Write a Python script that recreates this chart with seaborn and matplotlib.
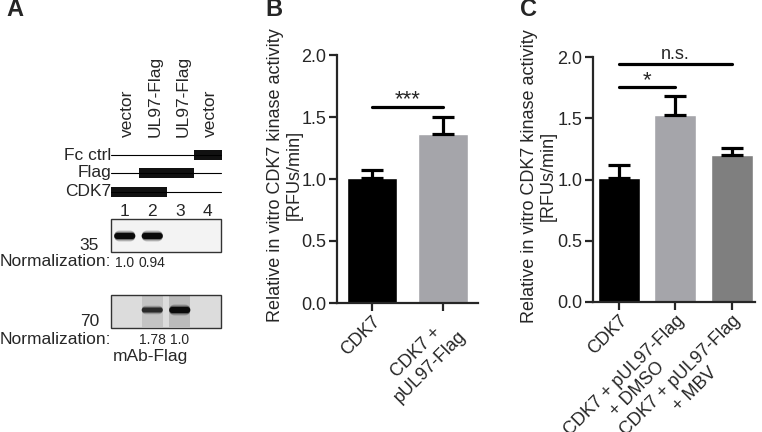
import numpy as np
import pandas as pd
import seaborn as sns
import matplotlib.pyplot as plt
from matplotlib.patches import Rectangle, FancyBboxPatch

# ---- data ----
# panel B
cond_b = ["CDK7", "CDK7 +\npUL97-Flag"]
mean_b = [1.01, 1.36]
err_b = [0.06, 0.14]
col_b = ["#000000", "#a5a5aa"]

# panel C
cond_c = ["CDK7", "CDK7 + pUL97-Flag\n+ DMSO", "CDK7 + pUL97-Flag\n+ MBV"]
mean_c = [1.01, 1.53, 1.20]
err_c = [0.11, 0.15, 0.06]
col_c = ["#000000", "#a5a5aa", "#7f7f7f"]

# panel A (western blot)
lane_names = ["vector", "UL97-Flag", "UL97-Flag", "vector"]
rows = ["Fc ctrl", "Flag", "CDK7"]
row_on = {"Fc ctrl": [0, 0, 0, 1], "Flag": [0, 1, 1, 0], "CDK7": [1, 1, 0, 0]}
band_top = [1.0, 1.0, 0.0, 0.0]      # upper blot (35)
band_bot = [0.0, 0.55, 1.0, 0.0]     # lower blot (70)
norm_top = ["1.0", "0.94", "", ""]
norm_bot = ["", "1.78", "1.0", ""]

sns.set_style("ticks")
plt.rcParams["font.family"] = ["Liberation Sans", "DejaVu Sans"]

W, H = 762, 432
fig = plt.figure(figsize=(W / 100, H / 100), dpi=100)


def px_axes(left, right, top, bottom):
    return fig.add_axes([left / W, 1 - bottom / H, (right - left) / W, (bottom - top) / H])


def bar_panel(ax, cond, mean, err, cols, width, xlim):
    n = len(cond)
    sns.barplot(x=list(range(n)), y=mean, hue=list(range(n)), palette=cols,
                legend=False, saturation=1, width=width, ax=ax, native_scale=True)
    ax.errorbar(range(n), mean, yerr=[np.zeros(n), err], fmt="none", ecolor="k",
                elinewidth=2.3, capsize=8, capthick=2.3, zorder=5)
    ax.set_xlim(*xlim)
    ax.set_ylim(0, 2.0)
    ax.set_yticks([0, 0.5, 1.0, 1.5, 2.0])
    ax.set_yticklabels(["0.0", "0.5", "1.0", "1.5", "2.0"], fontsize=13)
    ax.set_xticks(range(n))
    ax.set_xticklabels(cond, rotation=45, ha="right", rotation_mode="anchor",
                       multialignment="center", fontsize=13)
    sns.despine(ax=ax)
    for s in ["left", "bottom"]:
        ax.spines[s].set_linewidth(1.6)
    ax.tick_params(width=1.6, length=5.5, direction="out", pad=2)
    ax.set_ylabel("Relative in vitro CDK7 kinase activity\n[RFUs/min]", fontsize=13,
                  linespacing=1.15)


# ---- panel B ----
axB = px_axes(337, 478, 55, 303)
bar_panel(axB, cond_b, mean_b, err_b, col_b, 0.7, (-0.49, 1.49))
axB.yaxis.set_label_coords(-0.245, 0.515)
axB.plot([0, 1], [1.58, 1.58], color="k", lw=2.3, clip_on=False)
axB.text(0.5, 1.555, "***", ha="center", va="bottom", fontsize=16)

# ---- panel C ----
axC = px_axes(593, 755, 57, 302)
bar_panel(axC, cond_c, mean_c, err_c, col_c, 0.74, (-0.45, 2.4))
axC.yaxis.set_label_coords(-0.225, 0.515)
axC.plot([0, 1], [1.755, 1.755], color="k", lw=2.3, clip_on=False)
axC.text(0.5, 1.72, "*", ha="center", va="bottom", fontsize=16)
axC.plot([0, 2], [1.94, 1.94], color="k", lw=2.3, clip_on=False)
axC.text(1.0, 1.955, "n.s.", ha="center", va="bottom", fontsize=13)

# ---- panel A drawn in pixel coordinates ----
axA = fig.add_axes([0, 0, 1, 1], zorder=-1)
axA.set_xlim(0, W)
axA.set_ylim(H, 0)
axA.axis("off")

x0, lw_ = 111, 27.5
centers = [x0 + lw_ * (i + 0.5) for i in range(4)]

for i, name in enumerate(lane_names):
    axA.text(centers[i] + 3, 137, name, rotation=90, rotation_mode="anchor",
             ha="left", va="center", fontsize=12.5)

for r, y in zip(rows, [155, 173, 192]):
    axA.text(x0, y, r, ha="right", va="center", fontsize=12.5)
    axA.plot([x0, x0 + 4 * lw_], [y, y], color="k", lw=0.8)
    on = row_on[r]
    for i, v in enumerate(on):
        if v:
            axA.add_patch(Rectangle((x0 + lw_ * i, y - 5), lw_ + 0.5, 10, color="#111111", lw=0))

for i in range(4):
    axA.text(centers[i], 211, str(i + 1), ha="center", va="center", fontsize=12.5)


def blot(top, bot, bg, smear, bands, band_y):
    axA.add_patch(Rectangle((x0, top), 4 * lw_, bot - top, facecolor=bg,
                            edgecolor="#333333", lw=1))
    for i, b in enumerate(bands):
        if smear and b > 0:
            axA.add_patch(Rectangle((centers[i] - 10.5, top + 1), 21, bot - top - 2,
                                    facecolor="#000000", alpha=0.1 * b + 0.05, lw=0))
        if b > 0:
            for k, a in zip([11, 8.5, 6], [0.2, 0.45, 1.0]):
                h = k * (0.55 + 0.45 * b)
                axA.add_patch(FancyBboxPatch((centers[i] - 10.5, band_y - h / 2), 21, h,
                                             boxstyle="round,pad=0,rounding_size=%.1f" % (h / 2),
                                             facecolor="#0a0a0a", alpha=a * (0.35 + 0.65 * b), lw=0))


blot(219, 252, "#f3f3f3", False, band_top, 236)
blot(295, 328, "#dcdcdc", True, band_bot, 310)

axA.text(99, 246, "35", ha="right", va="center", fontsize=12.5)
axA.text(99, 322, "70", ha="right", va="center", fontsize=12.5)
axA.text(111, 262, "Normalization:", ha="right", va="center", fontsize=12.5)
axA.text(111, 339, "Normalization:", ha="right", va="center", fontsize=12.5)
for i in range(4):
    if norm_top[i]:
        axA.text(centers[i], 263, norm_top[i], ha="center", va="center", fontsize=10)
    if norm_bot[i]:
        axA.text(centers[i], 340, norm_bot[i], ha="center", va="center", fontsize=10)
axA.text(150, 357, "mAb-Flag", ha="center", va="center", fontsize=12.5)

for lab, x in [("A", 6), ("B", 265), ("C", 520)]:
    axA.text(x, 10, lab, ha="left", va="center", fontsize=17, fontweight="bold")

fig.savefig("out.png", dpi=100)
